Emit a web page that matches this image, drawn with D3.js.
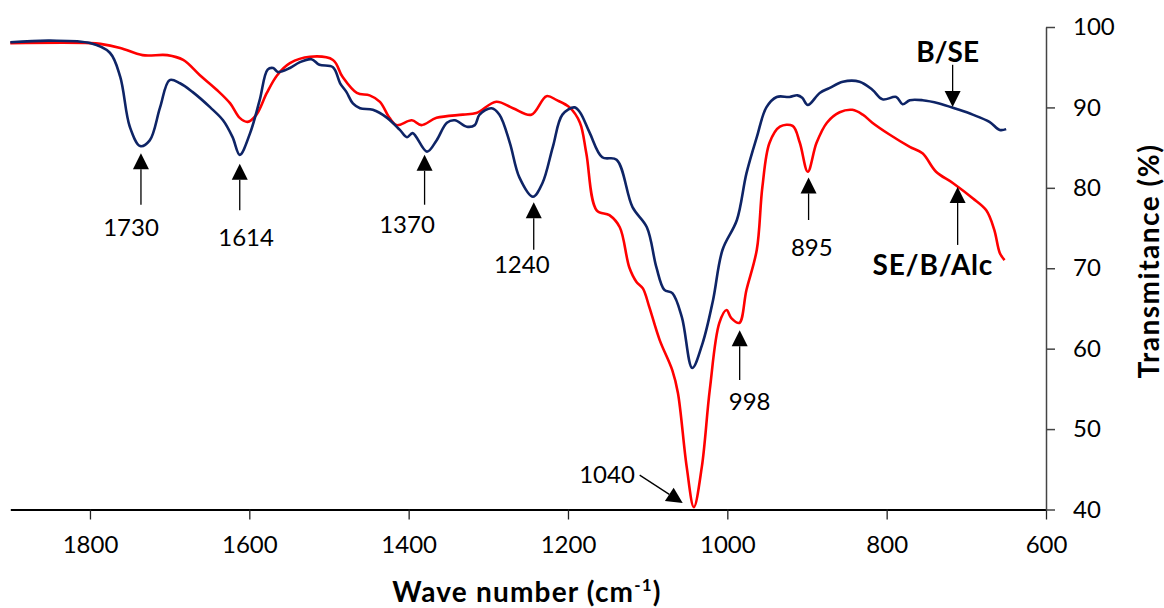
<!DOCTYPE html>
<html><head><meta charset="utf-8">
<script src="https://cdn.jsdelivr.net/npm/d3@7"></script>
<style>body{margin:0;background:#fff}svg{display:block}text{font-family:Lato,"Open Sans",sans-serif}</style>
</head><body><svg id="c" width="1164" height="608"></svg>
<script>
// Wavenumber (cm-1) and transmittance (%)
const bseWn = [1900,1850,1800,1775,1762,1750,1737,1725,1712,1700,1687,1671,1649,1633,1621,1612,1599,1587,1577,1570,1564,1549,1537,1522,1512,1495,1486,1478,1470,1461,1445,1427,1411,1402,1395,1377,1365,1352,1342,1327,1317,1311,1296,1286,1273,1261,1244,1232,1219,1207,1192,1185,1173,1157,1139,1119,1101,1089,1079,1069,1057,1044,1031,1018,1006,988,976,963,951,938,922,912,906,899,884,872,855,834,818,805,788,780,771,755,734,712,692,671,658,650];
const bseT  = [98.1,98.3,98.0,96.8,93.8,87.6,85.2,85.9,90.0,93.4,93.0,91.9,90.0,88.4,86.3,84.1,86.8,90.9,94.7,94.9,94.4,94.9,95.6,96.0,95.3,95.0,93.0,91.9,90.5,89.9,89.7,88.7,87.2,86.3,86.8,84.5,85.9,88.1,88.4,87.6,87.8,89.1,89.9,89.1,85.6,81.3,78.9,80.6,85.1,89.1,90.0,89.4,86.9,83.8,83.5,77.6,75.1,70.1,67.3,66.9,63.9,57.6,60.7,66.0,72.3,76.0,81.8,86.3,90.0,91.3,91.3,91.5,91.2,90.3,91.8,92.4,93.2,93.2,92.2,91.0,91.3,90.4,90.9,90.9,90.5,89.8,89.1,88.2,87.2,87.3];
const sebWn = [1900,1800,1787,1762,1734,1703,1683,1662,1641,1624,1612,1602,1591,1578,1565,1549,1524,1495,1483,1465,1449,1436,1424,1415,1396,1384,1365,1332,1315,1290,1269,1246,1227,1214,1198,1185,1177,1164,1148,1135,1123,1114,1106,1098,1085,1069,1062,1051,1042,1032,1022,1010,1001,995,985,976,963,956,947,934,918,909,899,888,875,859,843,830,818,796,771,755,738,717,692,675,665,658,652];
const sebT  = [98.0,98.0,97.9,97.4,96.5,96.5,95.9,94.0,92.2,90.5,88.7,88.2,89.1,91.8,94.0,95.5,96.3,95.9,93.8,91.8,91.5,90.7,88.7,87.8,88.4,87.8,88.7,89.1,89.3,90.7,89.9,89.1,91.4,90.9,90.0,88.1,84.3,77.2,76.6,75.1,70.1,68.3,67.5,65.2,61.1,57.3,54.5,45.3,40.3,45.3,54.9,63.2,64.8,63.8,63.2,67.3,72.3,80.1,85.6,87.6,87.7,85.6,82.0,85.6,88.1,89.4,89.7,89.1,88.1,86.6,85.1,84.3,82.0,80.6,78.7,77.2,74.8,71.9,71.0];
const xTicks = [1800,1600,1400,1200,1000,800,600];
const yTicks = [40,50,60,70,80,90,100];
// Peak annotations: label, arrow wavenumber, arrow tip T, arrow tail T, label wn, label T
const peakLabels = ["1730","1614","1370","1240","998","895"];
const peakArrowWn = [1736,1612,1380,1243,984.5,898];
const peakTipT = [84.3,83.0,84.1,78.2,62.3,81.3];
const peakTailT = [77.9,77.2,77.9,72.3,56.1,76.0];
const peakLabelWn = [1748.5,1604,1402,1258,972,894];
const peakLabelT = [75.1,73.8,75.4,70.5,53.4,72.6];

const svg = d3.select("#c");
const x = d3.scaleLinear().domain([1900,600]).range([10.3,1046]);
const y = d3.scaleLinear().domain([40,100]).range([509.5,27]);

// axes
const xAxis = svg.append("g").attr("transform",`translate(0,${y(40)})`)
  .call(d3.axisBottom(x).tickValues(xTicks).tickFormat(d3.format("d")).tickSize(10).tickSizeOuter(0).tickPadding(16));
xAxis.select(".domain").attr("stroke","#000").attr("stroke-width",2);
xAxis.selectAll(".tick line").attr("stroke","#222").attr("stroke-width",1.3);
xAxis.selectAll("text").attr("font-size",24).attr("fill","#000").style("font-family","Lato");

const yAxis = svg.append("g").attr("transform",`translate(${x(600)},0)`)
  .call(d3.axisRight(y).tickValues(yTicks).tickFormat(d3.format("d")).tickSize(9).tickSizeOuter(0).tickPadding(18));
yAxis.select(".domain").attr("stroke","#444").attr("stroke-width",1.5);
yAxis.selectAll(".tick line").attr("stroke","#444").attr("stroke-width",1.5);
yAxis.selectAll("text").attr("font-size",24).attr("fill","#000").style("font-family","Lato");

// titles
const xt = svg.append("text").attr("x",527).attr("y",602).attr("text-anchor","middle")
  .attr("font-size",28).attr("font-weight","bold").attr("letter-spacing",1.2).attr("fill","#000");
xt.append("tspan").text("Wave number (cm");
xt.append("tspan").attr("font-size",17).attr("dy",-11).text("-1");
xt.append("tspan").attr("dy",11).text(")");
svg.append("text").attr("transform","translate(1159,261) rotate(-90)").attr("text-anchor","middle")
  .attr("font-size",28).attr("font-weight","bold").attr("letter-spacing",1.5).attr("fill","#000").text("Transmitance (%)");

// curves
const line = d3.line().x(d=>x(d[0])).y(d=>y(d[1])).curve(d3.curveCatmullRom.alpha(0.5));
svg.append("path").datum(sebWn.map((w,i)=>[w,sebT[i]])).attr("d",line)
  .attr("fill","none").attr("stroke","#ff0000").attr("stroke-width",2.6);
svg.append("path").datum(bseWn.map((w,i)=>[w,bseT[i]])).attr("d",line)
  .attr("fill","none").attr("stroke","#0e2466").attr("stroke-width",2.6);

// arrow helper
function arrow(x1,y1,x2,y2){
  const ang = Math.atan2(y2-y1,x2-x1), L=16, W=8;
  const bx = x2 - L*Math.cos(ang), by = y2 - L*Math.sin(ang);
  svg.append("line").attr("x1",x1).attr("y1",y1).attr("x2",bx).attr("y2",by)
    .attr("stroke","#000").attr("stroke-width",1.3);
  const px = -Math.sin(ang)*W, py = Math.cos(ang)*W;
  svg.append("path").attr("d",`M${x2},${y2}L${bx+px},${by+py}L${bx-px},${by-py}Z`).attr("fill","#000");
}
peakLabels.forEach((lab,i)=>{
  arrow(x(peakArrowWn[i]),y(peakTailT[i]),x(peakArrowWn[i]),y(peakTipT[i]));
  svg.append("text").attr("x",x(peakLabelWn[i])).attr("y",y(peakLabelT[i])).attr("dy","0.35em")
    .attr("text-anchor","middle").attr("font-size",24).attr("fill","#000").text(lab);
});
// 1040 diagonal
arrow(x(1110),y(44.28),x(1056),y(40.8));
svg.append("text").attr("x",x(1151)).attr("y",y(44.28)).attr("dy","0.35em")
  .attr("text-anchor","middle").attr("font-size",24).attr("fill","#000").text("1040");
// series labels
arrow(x(710.9),y(72.9),x(710.9),y(80.1));
svg.append("text").attr("x",x(742)).attr("y",y(70.4)).attr("dy","0.35em")
  .attr("text-anchor","middle").attr("font-size",28).attr("font-weight","bold").attr("letter-spacing",0.8).attr("fill","#000").text("SE/B/Alc");
arrow(x(717.2),y(95.3),x(717.2),y(90.05));
svg.append("text").attr("x",x(723.5)).attr("y",y(96.9)).attr("dy","0.35em")
  .attr("text-anchor","middle").attr("font-size",28).attr("font-weight","bold").attr("fill","#000").text("B/SE");
</script></body></html>
